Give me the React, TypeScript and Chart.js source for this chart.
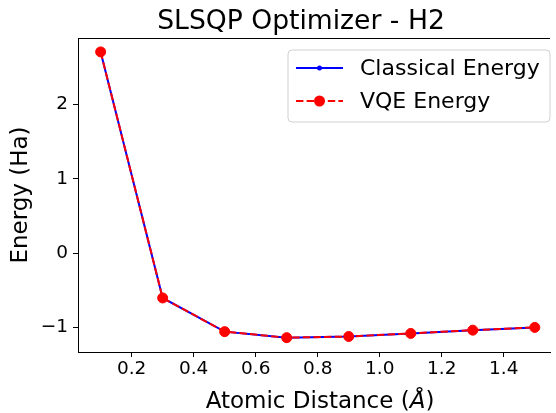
import React, { useEffect, useRef } from "react";
import { Chart, registerables } from "chart.js";

Chart.register(...registerables);

const distances = [0.1, 0.3, 0.5, 0.7, 0.9, 1.1, 1.3, 1.5];
const classicalEnergy = [2.7099, -0.6018, -1.0551, -1.1362, -1.1204, -1.0791, -1.0351, -0.9981];
const vqeEnergy = [2.7099, -0.6018, -1.0551, -1.1362, -1.1204, -1.0791, -1.0351, -0.9981];
const xTicks = [0.2, 0.4, 0.6, 0.8, 1.0, 1.2, 1.4];
const yTicks = [-1, 0, 1, 2];
const seriesLabels = ["Classical Energy", "VQE Energy"];
const chartTitle = "SLSQP Optimizer - H2";
const yTitle = "Energy (Ha)";
const xTitleParts = ["Atomic Distance (", "Å", ")"];

const FONT = "'DejaVu Sans', sans-serif";

const decorPlugin = {
  id: "decor",
  afterDraw(chart: any) {
    const ctx = chart.ctx as CanvasRenderingContext2D;
    const area = chart.chartArea;
    ctx.save();
    // top spine
    ctx.strokeStyle = "#000";
    ctx.lineWidth = 1;
    ctx.beginPath();
    ctx.moveTo(area.left, Math.round(area.top) + 0.5);
    ctx.lineTo(area.right, Math.round(area.top) + 0.5);
    ctx.stroke();

    // title
    ctx.fillStyle = "#000";
    ctx.font = `26.6px ${FONT}`;
    ctx.textAlign = "center";
    ctx.textBaseline = "alphabetic";
    ctx.fillText(chartTitle, 301, 29);

    // y title
    ctx.save();
    ctx.translate(27, (area.top + area.bottom) / 2);
    ctx.rotate(-Math.PI / 2);
    ctx.font = `23px ${FONT}`;
    ctx.textAlign = "center";
    ctx.fillText(yTitle, 0, 0);
    ctx.restore();

    // x title with italic Å
    ctx.textAlign = "left";
    const fN = `23px ${FONT}`;
    const fI = `italic 23px ${FONT}`;
    ctx.font = fN;
    const w0 = ctx.measureText(xTitleParts[0]).width;
    const w2 = ctx.measureText(xTitleParts[2]).width;
    ctx.font = fI;
    const w1 = ctx.measureText(xTitleParts[1]).width;
    const total = w0 + w1 + w2;
    let x = 320 - total / 2;
    const by = 408;
    ctx.font = fN;
    ctx.fillText(xTitleParts[0], x, by);
    x += w0;
    ctx.font = fI;
    ctx.fillText(xTitleParts[1], x, by);
    x += w1;
    ctx.font = fN;
    ctx.fillText(xTitleParts[2], x, by);

    // legend
    const bx = 288, byy = 50, bw = 262, bh = 72, r = 4;
    ctx.beginPath();
    ctx.moveTo(bx + r, byy);
    ctx.lineTo(bx + bw - r, byy);
    ctx.quadraticCurveTo(bx + bw, byy, bx + bw, byy + r);
    ctx.lineTo(bx + bw, byy + bh - r);
    ctx.quadraticCurveTo(bx + bw, byy + bh, bx + bw - r, byy + bh);
    ctx.lineTo(bx + r, byy + bh);
    ctx.quadraticCurveTo(bx, byy + bh, bx, byy + bh - r);
    ctx.lineTo(bx, byy + r);
    ctx.quadraticCurveTo(bx, byy, bx + r, byy);
    ctx.closePath();
    ctx.fillStyle = "rgba(255,255,255,0.8)";
    ctx.fill();
    ctx.strokeStyle = "#d0d0d0";
    ctx.lineWidth = 1;
    ctx.stroke();

    const rows = [68, 101];
    chart.data.datasets.forEach((ds: any, i: number) => {
      const yy = rows[i];
      ctx.strokeStyle = ds.borderColor;
      ctx.lineWidth = ds.borderWidth;
      ctx.setLineDash(ds.borderDash || []);
      ctx.beginPath();
      ctx.moveTo(296, yy);
      ctx.lineTo(343, yy);
      ctx.stroke();
      ctx.setLineDash([]);
      ctx.beginPath();
      ctx.arc(319.5, yy, ds.pointRadius + 0.5, 0, Math.PI * 2);
      ctx.fillStyle = ds.pointBackgroundColor;
      ctx.fill();
      ctx.fillStyle = "#000";
      ctx.font = `22px ${FONT}`;
      ctx.textAlign = "left";
      ctx.textBaseline = "middle";
      ctx.fillText(ds.label, 360, yy + 1);
    });
    ctx.restore();
  },
};

export default function App() {
  const ref = useRef<HTMLCanvasElement | null>(null);
  useEffect(() => {
    document.body.style.margin = "0";
    if (!ref.current) return;
    const chart = new Chart(ref.current, {
      type: "scatter",
      data: {
        datasets: [
          {
            label: seriesLabels[0],
            data: distances.map((d, i) => ({ x: d, y: classicalEnergy[i] })),
            showLine: true,
            borderColor: "#0000ff",
            borderWidth: 2,
            pointRadius: 2,
            pointBackgroundColor: "#0000ff",
            pointBorderWidth: 0,
            order: 2,
          },
          {
            label: seriesLabels[1],
            data: distances.map((d, i) => ({ x: d, y: vqeEnergy[i] })),
            showLine: true,
            borderColor: "#ff0000",
            borderWidth: 2,
            borderDash: [7.4, 3.2],
            pointRadius: 5,
            pointBackgroundColor: "#ff0000",
            pointBorderColor: "#ff0000",
            pointBorderWidth: 1,
            order: 1,
          },
        ] as any,
      },
      options: {
        animation: false,
        responsive: true,
        maintainAspectRatio: false,
        layout: { padding: { top: 38, left: 0, right: 0, bottom: 0 } },
        plugins: {
          legend: { display: false },
          tooltip: { enabled: false },
          title: { display: false },
        },
        scales: {
          x: {
            type: "linear",
            min: 0.027,
            max: 1.549,
            afterFit: (s: any) => {
              s.height = 61;
            },
            afterBuildTicks: (s: any) => {
              s.ticks = xTicks.map((v) => ({ value: v }));
            },
            grid: {
              display: true,
              drawOnChartArea: false,
              drawTicks: true,
              tickLength: 5,
              color: "#000",
              lineWidth: 1,
            },
            border: { display: true, color: "#000", width: 1 },
            ticks: {
              color: "#000",
              font: { family: FONT, size: 18.5 },
              padding: 1,
              maxRotation: 0,
              autoSkip: false,
              callback: (v: any) => Number(v).toFixed(1),
            },
          },
          y: {
            type: "linear",
            min: -1.329,
            max: 2.897,
            afterFit: (s: any) => {
              s.width = 78;
            },
            afterBuildTicks: (s: any) => {
              s.ticks = yTicks.map((v) => ({ value: v }));
            },
            grid: {
              display: true,
              drawOnChartArea: false,
              drawTicks: true,
              tickLength: 5,
              color: "#000",
              lineWidth: 1,
            },
            border: { display: true, color: "#000", width: 1 },
            ticks: {
              color: "#000",
              font: { family: FONT, size: 18.5 },
              padding: 5,
              autoSkip: false,
              callback: (v: any) => (Number(v) < 0 ? "\u2212" + Math.abs(Number(v)) : String(v)),
            },
          },
        },
      } as any,
      plugins: [decorPlugin],
    });
    return () => chart.destroy();
  }, []);
  return (
    <div style={{ position: "relative", width: 556, height: 413 }}>
      <canvas ref={ref} />
    </div>
  );
}
